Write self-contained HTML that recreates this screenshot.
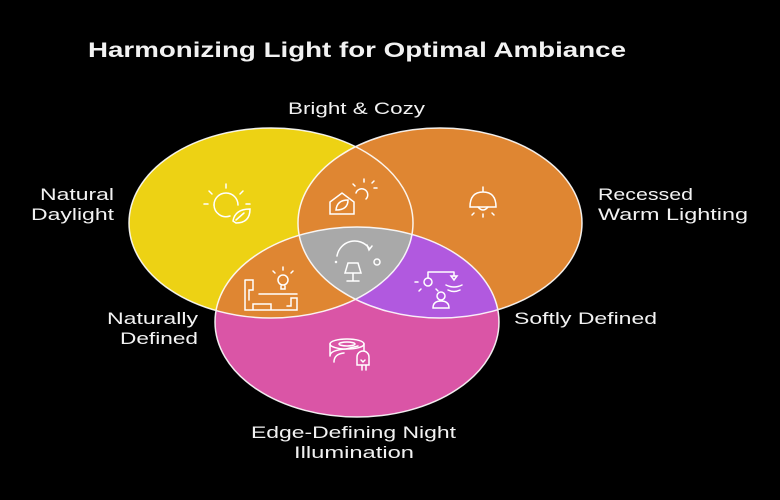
<!DOCTYPE html>
<html><head><meta charset="utf-8"><style>
html,body{margin:0;padding:0;background:#000;}
svg{display:block;}
text{font-family:"Liberation Sans",sans-serif;fill:#f2f2f2;}
</style></head><body>
<svg width="780" height="500" viewBox="0 0 780 500" xmlns="http://www.w3.org/2000/svg">
<defs>
<clipPath id="cy"><ellipse cx="271" cy="223" rx="142" ry="95"/></clipPath>
<clipPath id="co"><ellipse cx="440" cy="223" rx="142" ry="95"/></clipPath>
<clipPath id="cp"><ellipse cx="357" cy="322" rx="142" ry="95"/></clipPath>
</defs>
<rect width="780" height="500" fill="#000"/>
<text x="88" y="57" font-size="21" font-weight="bold" textLength="538" lengthAdjust="spacingAndGlyphs">Harmonizing Light for Optimal Ambiance</text>

<ellipse cx="271" cy="223" rx="142" ry="95" fill="#EDD214"/>
<ellipse cx="440" cy="223" rx="142" ry="95" fill="#DF8632"/>
<ellipse cx="357" cy="322" rx="142" ry="95" fill="#DA55A6"/>
<g clip-path="url(#cy)"><ellipse cx="440" cy="223" rx="142" ry="95" fill="#DF8632"/><ellipse cx="357" cy="322" rx="142" ry="95" fill="#DF8632"/></g>
<g clip-path="url(#co)"><ellipse cx="357" cy="322" rx="142" ry="95" fill="#B159DF"/></g>
<g clip-path="url(#cy)"><g clip-path="url(#co)"><ellipse cx="357" cy="322" rx="142" ry="95" fill="#A9A9A9"/></g></g>
<g fill="none" stroke="#fff" stroke-width="1.5" opacity="0.9">
<ellipse cx="271" cy="223" rx="142" ry="95"/>
<ellipse cx="440" cy="223" rx="142" ry="95"/>
<ellipse cx="357" cy="322" rx="142" ry="95"/>
</g>

<g fill="none" stroke="#fff" stroke-width="1.5" stroke-linecap="round">
<path d="M214 205 a12 12 0 1 1 24 0"/><path d="M214 205 a12 12 0 0 0 16 11"/>
<path d="M226 188v-4M212 194l-3-3M240 194l3-3M208 204h-4M246 204h4"/>
<path d="M233 221 q2 -12 17 -12 q0 14 -14 14z M236 220 l8 -7"/>
<path d="M330 214 v-12 l12 -9 l12 9 v12z"/><path d="M336 210 q1 -10 12 -10 q0 10 -12 10z"/>
<path d="M356 193 a6 6 0 1 1 10 6"/><path d="M364 182v-3M374 188h3M355 186l-2-2M372 183l2-2"/>
<path d="M483 187v5M470 207 q0 -15 13 -15 q13 0 13 15z"/><path d="M478 207 q5 6 10 0"/>
<path d="M474 213l-2 2M483 214v3M492 213l2 2"/>
<path d="M337 256 a18 18 0 0 1 32 -8"/><path d="M367 245l2 5 3 -4"/>
<path d="M348 263h10l3 10h-16z M353 273v8 M347 281h12"/><circle cx="377" cy="262" r="3"/>
<circle cx="336" cy="262" r="0.5"/>
<path d="M245 280h8v10h-4v10 M245 280v30h52v-12h-6v8h-4 M253 310v-6h18v6 M259 294h38"/>
<circle cx="283" cy="280" r="5"/><path d="M281 286v3h4v-3M283 270v-3M275 273l-2-2M291 273l2-2"/>
<path d="M428 272h26M428 272v6M454 272v4"/><circle cx="428" cy="282" r="4"/><path d="M451 276h6l-3 4z"/>
<path d="M418 282h-3M421 289l-2 2M436 289l2 2M446 285 q8 4 16 0M448 290 q6 3 12 0"/>
<circle cx="441" cy="296" r="4"/><path d="M433 308 q0 -7 8 -7 q8 0 8 7z"/>
<ellipse cx="347" cy="344" rx="17" ry="5"/><ellipse cx="347" cy="344" rx="8" ry="2"/>
<path d="M330 344v12M364 344v6 M330 356 q0 -6 16 -7 l12 -3 M334 362 q0 -8 10 -9"/>
<path d="M357 365v-8 a6 6 0 0 1 12 0v8z M362 365v5M366 365v5M361 360l2 2 2-2"/>
</g>

<g font-size="17" lengthAdjust="spacingAndGlyphs">
<text x="288" y="114" textLength="137" lengthAdjust="spacingAndGlyphs">Bright &amp; Cozy</text>
<text x="40" y="200" textLength="74" lengthAdjust="spacingAndGlyphs">Natural</text>
<text x="31" y="220" textLength="83" lengthAdjust="spacingAndGlyphs">Daylight</text>
<text x="598" y="200" textLength="95" lengthAdjust="spacingAndGlyphs">Recessed</text>
<text x="598" y="220" textLength="150" lengthAdjust="spacingAndGlyphs">Warm Lighting</text>
<text x="107" y="324" textLength="91" lengthAdjust="spacingAndGlyphs">Naturally</text>
<text x="120" y="344" textLength="78" lengthAdjust="spacingAndGlyphs">Defined</text>
<text x="514" y="324" textLength="143" lengthAdjust="spacingAndGlyphs">Softly Defined</text>
<text x="251" y="438" textLength="205" lengthAdjust="spacingAndGlyphs">Edge-Defining Night</text>
<text x="294" y="458" textLength="120" lengthAdjust="spacingAndGlyphs">Illumination</text>
</g>
</svg>
</body></html>
